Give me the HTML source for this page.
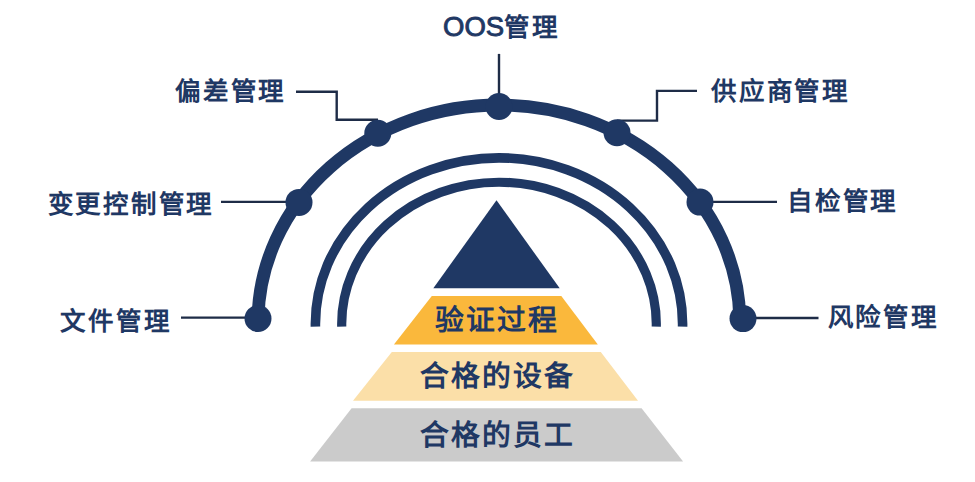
<!DOCTYPE html>
<html lang="zh-CN">
<head>
<meta charset="utf-8">
<style>
html,body{margin:0;padding:0;background:#fff;}
body{width:975px;height:482px;overflow:hidden;position:relative;font-family:"Liberation Sans",sans-serif;}
svg{position:absolute;left:0;top:0;}
.t{position:absolute;white-space:nowrap;color:#1f3864;font-weight:700;line-height:1;}
.s27{font-size:25.5px;letter-spacing:1.8px;}
.s30{font-size:28.8px;letter-spacing:2.0px;}
</style>
</head>
<body>
<svg width="975" height="482" viewBox="0 0 975 482">
  <g fill="none" stroke="#1f3864">
    <path d="M258.03 318.5 A240.9 216.9 0 0 1 739.77 318.5" stroke-width="12.8"/>
    <path d="M315.42 326.6 A183.6 166.3 0 1 1 682.58 326.6" stroke-width="9.6"/>
    <path d="M341.73 326.6 A157.3 141.6 0 1 1 656.27 326.6" stroke-width="9.2"/>
  </g>
  <g fill="none" stroke="#1e2c47" stroke-width="2.4">
    <polyline points="499,53.9 499,100"/>
    <polyline points="296,91.8 336.7,91.8 336.7,119.8 378,119.8"/>
    <polyline points="697,90.9 657,90.9 657,120.6 617,120.6"/>
    <polyline points="221,201.9 290,201.9"/>
    <polyline points="777,201.9 710,201.9"/>
    <polyline points="181,317.6 250,317.6"/>
    <polyline points="818.5,318 750,318"/>
  </g>
  <g fill="#1f3864">
    <circle cx="258" cy="318.5" r="13.5"/>
    <circle cx="299" cy="202.4" r="13.5"/>
    <circle cx="377.8" cy="133.3" r="13.5"/>
    <circle cx="499" cy="106.5" r="13.5"/>
    <circle cx="617" cy="132.8" r="13.5"/>
    <circle cx="700" cy="202.1" r="13.5"/>
    <circle cx="743" cy="318.6" r="13.5"/>
  </g>
  <polygon points="496.5,200.2 433.3,288.3 559.7,288.3" fill="#1f3864"/>
  <polygon points="431.8,296 561.3,296 597.8,344.6 393.9,344.6" fill="#fab83c"/>
  <polygon points="391.8,352 600.8,352 638,400.7 353,400.7" fill="#fbdfa8"/>
  <polygon points="351.6,408.3 641.6,408.3 683.1,461.5 310.1,461.5" fill="#cbcbcb"/>
</svg>
<div class="t s27" style="left:443.00px;top:12.50px;"><span style="font-size:27.5px;font-weight:400;-webkit-text-stroke:0.9px #1f3864;letter-spacing:0px">OOS</span>管理</div>
<div class="t s27" style="left:175.00px;top:79.00px;">偏差管理</div>
<div class="t s27" style="left:711.00px;top:79.25px;">供应商管理</div>
<div class="t s27" style="left:47.50px;top:191.50px;">变更控制管理</div>
<div class="t s27" style="left:787.00px;top:188.50px;">自检管理</div>
<div class="t s27" style="left:60.25px;top:308.75px;">文件管理</div>
<div class="t s27" style="left:827.50px;top:304.50px;">风险管理</div>
<div class="t s30" style="left:434.75px;top:305.75px;">验证过程</div>
<div class="t s30" style="left:420.25px;top:362.25px;">合格的设备</div>
<div class="t s30" style="left:419.75px;top:420.75px;">合格的员工</div>
</body>
</html>
